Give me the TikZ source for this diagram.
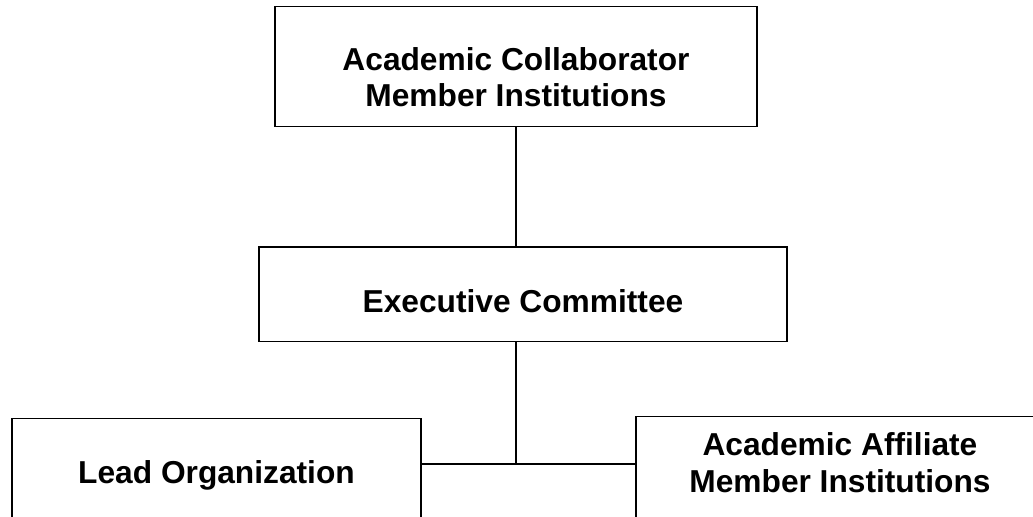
\documentclass[tikz,border=0pt]{standalone}
\usepackage{fontspec}
\setmainfont{Liberation Sans}
\usepackage{tikz}
\usetikzlibrary{positioning}
\tikzset{link/.style = {-, line width=0.85pt}}

\begin{document}
\begin{tikzpicture}[x=0.5pt,y=-0.5pt,line width=0.85pt,
    box/.style={rectangle,draw,anchor=north,align=center,inner xsep=0pt,inner ysep=0pt,
      font=\fontsize{15.85}{18.35}\selectfont\bfseries}]
    \useasboundingbox (0,0) rectangle (1033,516);

    \node[box,minimum width=241pt,text height=50.15pt,text depth=9.85pt] (collab) at (516,5.7)
        {Academic Collaborator\\Member Institutions};
    \node[box,minimum width=264pt,text height=32.85pt,text depth=14.5pt] (exec) at (523,246)
        {Executive Committee};
    \node[box,minimum width=204.5pt,text height=32.5pt,text depth=40pt] (lead) at (216.5,417.7)
        {Lead Organization};
    \node[box,minimum width=204pt,text height=38pt,text depth=40pt] (affil) at (840,415.7)
        {Academic Affiliate\\Member Institutions};

    \coordinate (junc) at (516,464);

    \path (collab.south) edge[link] (collab.south |- exec.north);
    \path (collab.south |- exec.south) edge[link] (junc);
    \path (lead.east |- junc) edge[link] (affil.west |- junc);
\end{tikzpicture}
\end{document}
